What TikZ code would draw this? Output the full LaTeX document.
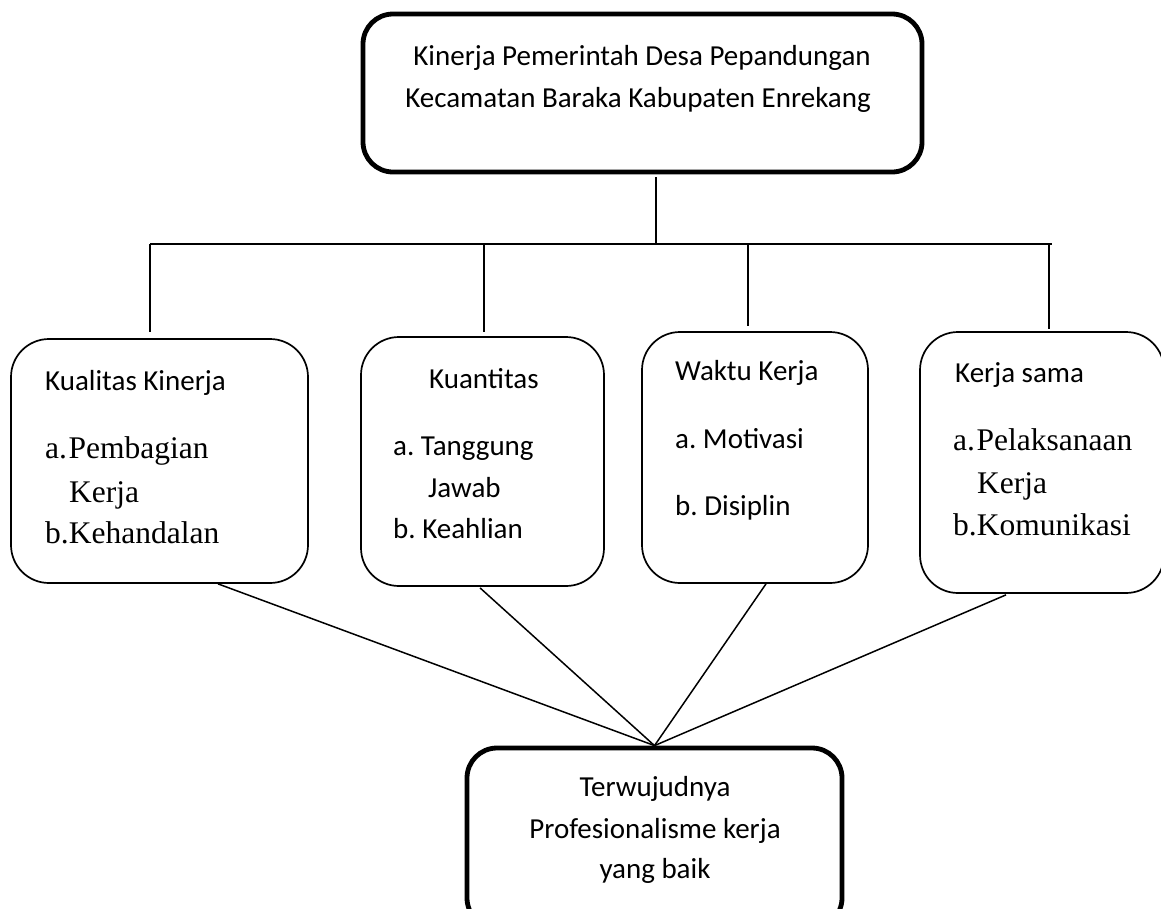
\documentclass[tikz,border=0pt]{standalone}
\usepackage{fontspec}
\setmainfont{Carlito}
\newfontfamily\tnr{Liberation Serif}
\usetikzlibrary{calc}
\frenchspacing
\begin{document}
\begin{tikzpicture}[x=1pt,y=-1pt,
  thinbox/.style={draw, line width=1.7pt, rounded corners=38pt, inner sep=0pt},
  thickbox/.style={draw, line width=4.8pt, rounded corners=30pt, inner sep=0pt},
  conn/.style={line width=1.5pt},
  sf/.style={font=\fontsize{29}{35}\selectfont, inner sep=0pt, anchor=base west},
  tr/.style={font=\tnr\fontsize{31.5}{38}\selectfont, inner sep=0pt, anchor=base west},
]
\useasboundingbox (0,0) rectangle (1161,908);

% boxes
\node[thickbox, minimum width=559pt, minimum height=158pt] (top) at (642.5,93) {};
\node[thinbox, minimum width=297pt, minimum height=244pt] (b1) at (159.5,461) {};
\node[thinbox, minimum width=243pt, minimum height=249pt] (b2) at (482.5,461.5) {};
\node[thinbox, minimum width=226pt, minimum height=251pt] (b3) at (755,457.5) {};
\node[thinbox, minimum width=244pt, minimum height=261pt] (b4) at (1042,462.5) {};
\node[thickbox, minimum width=375pt, minimum height=180pt] (bot) at (654.5,838) {};

% title
\node[sf, anchor=base] (t1) at (642,65) {Kinerja Pemerintah Desa Pepandungan};
\node[sf, anchor=base] (t2) at (638,107) {Kecamatan Baraka Kabupaten Enrekang};

% box 1
\node[sf] (k1) at (45,390) {Kualitas Kinerja};
\node[tr] (k1a) at (45,458) {a.\kern1.5pt Pembagian};
\node[tr] (k1a2) at (69,502) {Kerja};
\node[tr] (k1b) at (45,543) {b.Kehandalan};

% box 2
\node[sf] (k2) at (429,388) {Kuantitas};
\node[sf] (k2a) at (393,455) {a. Tanggung};
\node[sf] (k2a2) at (428,497) {Jawab};
\node[sf] (k2b) at (393,538) {b. Keahlian};

% box 3
\node[sf] (k3) at (675,380) {Waktu Kerja};
\node[sf] (k3a) at (675,448) {a. Motivasi};
\node[sf] (k3b) at (675,515) {b. Disiplin};

% box 4
\node[sf] (k4) at (955,382) {Kerja sama};
\node[tr] (k4a) at (953,450) {a.\kern1.5pt Pelaksanaan};
\node[tr] (k4a2) at (977,493) {Kerja};
\node[tr] (k4b) at (953,535) {b.Komunikasi};

% bottom
\node[sf, anchor=base] (r1) at (655,796) {Terwujudnya};
\node[sf, anchor=base] (r2) at (655,838) {Profesionalisme kerja};
\node[sf, anchor=base] (r3) at (655,878) {yang baik};

% connectors top
\coordinate (barL) at (150,244);
\coordinate (barR) at (1052,244);
\coordinate (tdrop) at (656,244);
\coordinate (d2) at (484,244);
\coordinate (d3) at (748,244);
\coordinate (d4) at (1049,244);
\draw[conn, shorten <=3pt] (tdrop |- top.south) -- (tdrop);
\draw[conn] (barL) -- (barR);
\draw[conn, shorten >=6pt] (barL) -- (barL |- b1.north);
\draw[conn, shorten >=4pt] (d2) -- (d2 |- b2.north);
\draw[conn, shorten >=5pt] (d3) -- (d3 |- b3.north);
\draw[conn, shorten >=2pt] (d4) -- (d4 |- b4.north);

% connectors bottom
\draw[conn] ($(b1.south)+(58.5,0)$) -- (bot.north);
\draw[conn] ($(b2.south)+(-2.5,1)$) -- (bot.north);
\draw[conn] ($(b3.south)+(11,0)$) -- (bot.north);
\draw[conn] ($(b4.south)+(-36,1)$) -- (bot.north);
\end{tikzpicture}
\end{document}
